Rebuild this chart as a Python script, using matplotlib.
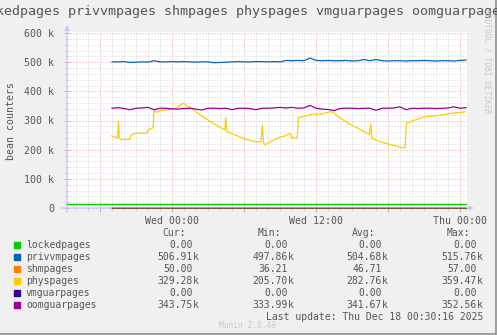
import numpy as np
import matplotlib.pyplot as plt
from matplotlib.lines import Line2D
from matplotlib.patches import Rectangle

W, H = 497, 335
plt.rcParams['font.family'] = ['DejaVu Sans Mono']

# time axis: hours relative to Wed 00:00
grid_t = np.arange(-5.0, 25.0, 0.5)

# privvmpages / oomguarpages, thousands of pages, every 30 min
privvmpages = [501, 501, 502, 499, 500, 501, 500, 505, 501, 501,
               502, 501, 502, 501, 500, 501, 501, 498, 499, 500,
               501, 502, 501, 501, 502, 502, 501, 502, 501, 506,
               505, 506, 505, 514, 506, 505, 506, 505, 505, 506,
               504, 505, 509, 505, 509, 505, 504, 505, 505, 504,
               505, 505, 506, 505, 504, 505, 505, 504, 506, 507]
oomguarpages = [342, 344, 341, 337, 342, 343, 345, 337, 342, 342,
                340, 339, 341, 342, 339, 336, 342, 342, 341, 342,
                337, 342, 342, 341, 337, 342, 342, 343, 345, 343,
                345, 342, 343, 352, 342, 339, 338, 334, 341, 342,
                342, 341, 342, 342, 335, 342, 342, 343, 347, 337,
                342, 341, 342, 342, 341, 342, 343, 347, 342, 344]

# physpages, thousands of pages
phys_t = [-5.03, -4.67, -4.54, -4.47, -4.38, -4.17, -3.5, -3.42, -3.08, -2.08,
          -2.0, -1.69, -1.58, -1.5, -1.28, -1.0, -0.03, 0.39, 0.86, 1.0,
          1.22, 1.64, 2.06, 2.75, 3.58, 4.28, 4.42, 4.47, 4.58, 4.69,
          5.39, 6.08, 6.92, 7.42, 7.53, 7.63, 7.75, 8.17, 8.86, 9.42,
          9.83, 10.03, 10.44, 10.53, 11.08, 11.64, 12.47, 13.17, 13.44, 13.86,
          14.69, 15.53, 16.36, 16.46, 16.56, 16.67, 16.78, 17.19, 17.75, 18.58,
          19.14, 19.42, 19.53, 19.97, 20.53, 20.94, 21.64, 22.47, 23.31, 24.0,
          24.42]
physpages = [247, 242, 240, 298, 238, 235, 235, 250, 256, 257,
             267, 273, 275, 336, 328, 333, 339, 344, 357, 359,
             350, 342, 328, 308, 287, 270, 268, 310, 262, 260,
             248, 237, 227, 227, 285, 225, 216, 227, 241, 247,
             256, 239, 241, 310, 315, 321, 322, 330, 328, 313,
             290, 273, 253, 252, 287, 240, 237, 230, 222, 214,
             207, 206, 290, 298, 305, 312, 315, 319, 325, 328,
             329.28]

# series that stay at the floor
zero_t = [-5.0, 24.5]
lockedpages = [0, 0]
shmpages = [0.047, 0.050]
vmguarpages = [0, 0]
lockedpages_rule = 14

names = ['lockedpages', 'privvmpages', 'shmpages', 'physpages',
         'vmguarpages', 'oomguarpages']
colors = ['#00CC00', '#0066B3', '#FF8000', '#FFCC00', '#330099', '#990099']
cur = [0, 506910, 50, 329280, 0, 343750]
vmin = [0, 497860, 36.21, 205700, 0, 333990]
vavg = [0, 504680, 46.71, 282760, 0, 341670]
vmax = [0, 515760, 57, 359470, 0, 352560]

xticks = [-6, 0, 6, 12, 18, 24]
xlabels = ['', 'Wed 00:00', '', 'Wed 12:00', '', 'Thu 00:00']
yticks = [0, 100, 200, 300, 400, 500, 600]
ylabels = ['0', '100 k', '200 k', '300 k', '400 k', '500 k', '600 k']

TXT = '#555555'
AXIS = '#c4c8f4'


def fx(x):
    return x / W


def fy(y):
    return 1 - y / H


def fmt(v):
    if v >= 1000:
        return '%.2f' % (v / 1000), 'k'
    return '%.2f' % v, ''


fig = plt.figure(figsize=(W / 100, H / 100), dpi=100, facecolor='#f0f0f0')

# plot area: 0 at y=208, 600k at y=33, 12 px per hour
ax = fig.add_axes([fx(67), fy(209), 400 / W, 177 / H])
ax.set_facecolor('white')
ax.set_xlim(-8.75, -8.75 + 400 / 12)
ax.set_ylim(-600 / 175, 600 + 600 / 175)
for s in ax.spines.values():
    s.set_visible(False)

ax.set_xticks(xticks)
ax.set_xticklabels(xlabels)
ax.set_xticks(np.arange(-8, 25, 1), minor=True)
ax.set_yticks(yticks)
ax.set_yticklabels(ylabels)
ax.set_yticks(np.arange(0, 601, 20), minor=True)
ax.tick_params(which='both', labelsize=7.1, labelcolor=TXT, direction='inout')
ax.tick_params(axis='x', which='major', length=4, width=0.7, color='#e8a0a0', pad=3)
ax.tick_params(axis='y', which='major', length=4, width=0.7, color='#e8a0a0', pad=7)
ax.tick_params(which='minor', length=3, width=0.7, color='#d0d0d0')

ax.grid(which='minor', color='#d4d4d4', lw=0.72, linestyle=(0, (1, 2)))
ax.grid(which='major', color='#e6a0a0', lw=0.72, linestyle=(0, (1, 2)))
ax.set_axisbelow(True)

# axes with arrow heads
ax.annotate('', xy=(474, H - 208), xytext=(62, H - 208), xycoords='figure pixels',
            arrowprops=dict(arrowstyle='-|>', color=AXIS, lw=1, mutation_scale=7,
                            shrinkA=0, shrinkB=0), annotation_clip=False, zorder=1.5)
ax.annotate('', xy=(67, H - 25), xytext=(67, H - 212), xycoords='figure pixels',
            arrowprops=dict(arrowstyle='-|>', color=AXIS, lw=1, mutation_scale=7,
                            shrinkA=0, shrinkB=0), annotation_clip=False, zorder=1.5)

lw = 0.9
ax.axhline(lockedpages_rule, color=colors[0], lw=1.0, zorder=2)
ax.plot(zero_t, lockedpages, color=colors[0], lw=lw)
ax.plot(grid_t, privvmpages, color=colors[1], lw=lw)
ax.plot(zero_t, shmpages, color=colors[2], lw=lw)
ax.plot(phys_t, physpages, color=colors[3], lw=lw)
ax.plot(zero_t, vmguarpages, color=colors[4], lw=lw, alpha=0.45)
ax.plot(grid_t, oomguarpages, color=colors[5], lw=lw)

fig.text(fx(240), fy(12), ' '.join(names), ha='center', va='center',
         fontsize=9.6, color=TXT)
fig.text(fx(11), fy(121), 'bean counters', rotation=90, ha='center', va='center',
         fontsize=7.1, color=TXT)
fig.text(fx(487.5), fy(61), 'RRDTOOL / TOBI OETIKER', rotation=270, ha='center',
         va='center', fontsize=5.7, color='#c8c8c8')

# legend table
cols = [193, 288, 382, 477]
for hx, h in zip([186, 281, 375, 470], ['Cur:', 'Min:', 'Avg:', 'Max:']):
    fig.text(fx(hx), fy(233), h, ha='right', va='center', fontsize=7, color=TXT)
for i, name in enumerate(names):
    y = 245 + 12 * i
    fig.add_artist(Rectangle((fx(14), fy(y + 3)), 6 / W, 6 / H,
                             color=colors[i], transform=fig.transFigure))
    fig.text(fx(26), fy(y), name, ha='left', va='center', fontsize=7, color=TXT)
    for cx, v in zip(cols, [cur[i], vmin[i], vavg[i], vmax[i]]):
        num, unit = fmt(v)
        fig.text(fx(cx), fy(y), num, ha='right', va='center', fontsize=7, color=TXT)
        if unit:
            fig.text(fx(cx), fy(y), unit, ha='left', va='center', fontsize=7, color=TXT)

fig.text(fx(483), fy(317), 'Last update: Thu Dec 18 00:30:16 2025', ha='right',
         va='center', fontsize=7, color=TXT)
fig.text(fx(247.5), fy(325), 'Munin 2.0.49', ha='center', va='center',
         fontsize=5.7, color='#c8c8c8')

# frame shading
fig.add_artist(Line2D([0, 1], [fy(334), fy(334)], color='#a0a0a0', lw=1.5))
fig.add_artist(Line2D([fx(496), fx(496)], [0, 1], color='#a0a0a0', lw=1.5))

fig.savefig('out.png', dpi=100, facecolor=fig.get_facecolor())
